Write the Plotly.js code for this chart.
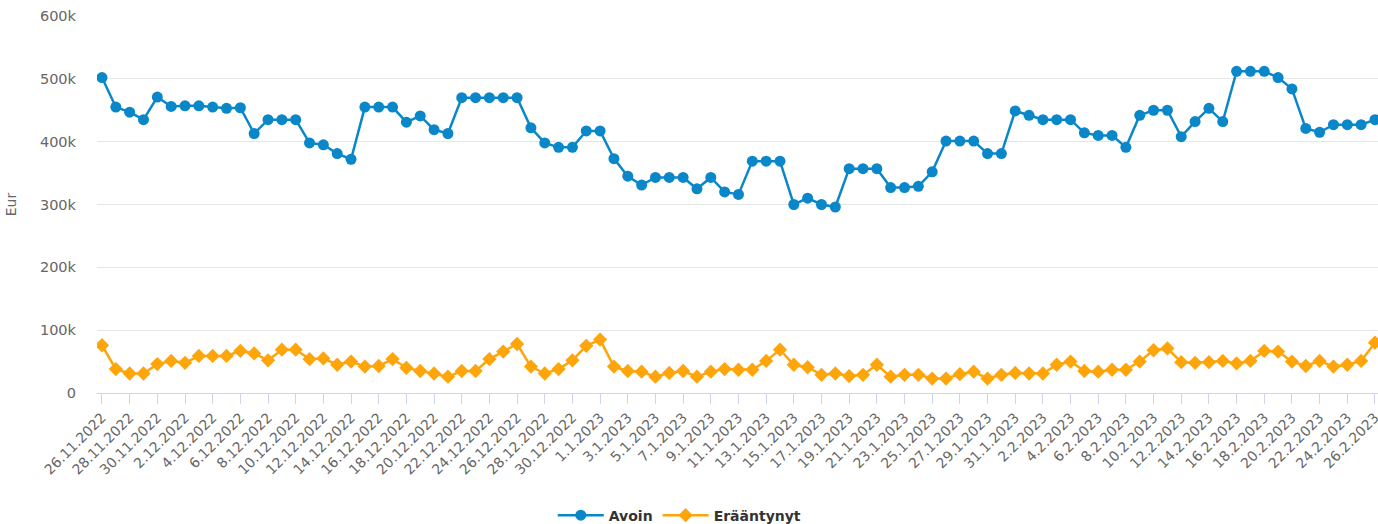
<!DOCTYPE html>
<html>
<head>
<meta charset="utf-8">
<script src="https://cdn.plot.ly/plotly-3.0.1.min.js"></script>
<style>
html,body{margin:0;padding:0;background:#fff;}
#chart{width:1378px;height:524px;}
</style>
</head>
<body>
<div id="chart"></div>
<script>
var dates = [
"26.11.2022","27.11.2022","28.11.2022","29.11.2022","30.11.2022",
"1.12.2022","2.12.2022","3.12.2022","4.12.2022","5.12.2022","6.12.2022","7.12.2022","8.12.2022","9.12.2022","10.12.2022",
"11.12.2022","12.12.2022","13.12.2022","14.12.2022","15.12.2022","16.12.2022","17.12.2022","18.12.2022","19.12.2022","20.12.2022",
"21.12.2022","22.12.2022","23.12.2022","24.12.2022","25.12.2022","26.12.2022","27.12.2022","28.12.2022","29.12.2022","30.12.2022","31.12.2022",
"1.1.2023","2.1.2023","3.1.2023","4.1.2023","5.1.2023","6.1.2023","7.1.2023","8.1.2023","9.1.2023","10.1.2023",
"11.1.2023","12.1.2023","13.1.2023","14.1.2023","15.1.2023","16.1.2023","17.1.2023","18.1.2023","19.1.2023","20.1.2023",
"21.1.2023","22.1.2023","23.1.2023","24.1.2023","25.1.2023","26.1.2023","27.1.2023","28.1.2023","29.1.2023","30.1.2023","31.1.2023",
"1.2.2023","2.2.2023","3.2.2023","4.2.2023","5.2.2023","6.2.2023","7.2.2023","8.2.2023","9.2.2023","10.2.2023",
"11.2.2023","12.2.2023","13.2.2023","14.2.2023","15.2.2023","16.2.2023","17.2.2023","18.2.2023","19.2.2023","20.2.2023",
"21.2.2023","22.2.2023","23.2.2023","24.2.2023","25.2.2023","26.2.2023"
];

var avoin = [
502000,455000,447000,435000,471000,456000,457000,457000,455000,453000,454000,
413000,435000,435000,435000,398000,395000,381000,372000,455000,455000,455000,
431000,441000,419000,413000,470000,470000,470000,470000,470000,422000,398000,
391000,391000,417000,417000,373000,345000,331000,343000,343000,343000,325000,
343000,320000,316000,369000,369000,369000,300000,310000,300000,296000,357000,
357000,357000,327000,327000,329000,352000,401000,401000,401000,381000,381000,
449000,442000,435000,435000,435000,414000,410000,410000,391000,442000,450000,
450000,408000,432000,453000,432000,512000,512000,512000,502000,484000,421000,
415000,427000,427000,427000,435000
];

var eraantynyt = [
76000,38000,31000,31000,46000,51000,48000,59000,59000,59000,67000,
63000,52000,69000,69000,54000,55000,45000,50000,42000,43000,54000,
40000,35000,31000,26000,35000,35000,54000,66000,78000,42000,31000,
38000,52000,75000,85000,42000,35000,34000,26000,32000,35000,26000,
34000,38000,37000,37000,51000,69000,45000,41000,29000,31000,27000,
29000,45000,26000,29000,29000,23000,23000,30000,34000,23000,29000,
32000,31000,31000,45000,50000,35000,34000,37000,37000,50000,68000,
71000,49000,48000,49000,51000,47000,51000,67000,66000,50000,43000,
51000,42000,45000,51000,80000
];

var yTickVals = [0,100000,200000,300000,400000,500000,600000];
var yTickText = ["0","100k","200k","300k","400k","500k","600k"];

var xTickVals = dates.filter(function(d,i){return i%2===0;});

var FONT = '"DejaVu Sans", Verdana, sans-serif';

var traces = [
  {
    x: dates, y: avoin, name: "Avoin", type: "scatter", mode: "lines+markers",
    line: {color: "#0a87c9", width: 2.5},
    marker: {color: "#0a87c9", size: 11, symbol: "circle"}
  },
  {
    x: dates, y: eraantynyt, name: "Erääntynyt", type: "scatter", mode: "lines+markers",
    line: {color: "#ffa50c", width: 2.5},
    marker: {color: "#ffa50c", size: 11, symbol: "diamond"}
  }
];

var layout = {
  width: 1378, height: 524,
  margin: {l: 97, r: 0, t: 16, b: 131},
  paper_bgcolor: "#fff", plot_bgcolor: "#fff",
  font: {family: FONT, size: 13, color: "#666"},
  showlegend: true,
  legend: {
    orientation: "h",
    xref: "container", yref: "container",
    x: 0.4933, xanchor: "center", y: 0.016, yanchor: "middle",
    font: {family: FONT, size: 14, color: "#333", weight: "bold"},
    itemwidth: 46
  },
  xaxis: {
    type: "category",
    automargin: false,
    range: [-0.36, 92.22],
    tickmode: "array", tickvals: xTickVals,
    tickangle: -45,
    ticks: "outside", ticklen: 10, tickcolor: "#ccd6eb", tickwidth: 1,
    showline: true, linecolor: "#ccd6eb", linewidth: 1,
    showgrid: false, zeroline: false,
    tickfont: {family: FONT, size: 14, color: "#666"}
  },
  yaxis: {
    automargin: false,
    range: [0, 600000],
    tickmode: "array", tickvals: yTickVals, ticktext: yTickText,
    showgrid: true, gridcolor: "#e6e6e6", gridwidth: 1,
    zeroline: false, showline: false,
    ticks: "", ticklabelstandoff: 20,
    tickfont: {family: FONT, size: 14.5, color: "#666"},
    title: {text: "Eur", font: {family: FONT, size: 14, color: "#666"}, standoff: 20}
  }
};

Plotly.newPlot("chart", traces, layout, {displayModeBar: false, staticPlot: true});
</script>
</body>
</html>
